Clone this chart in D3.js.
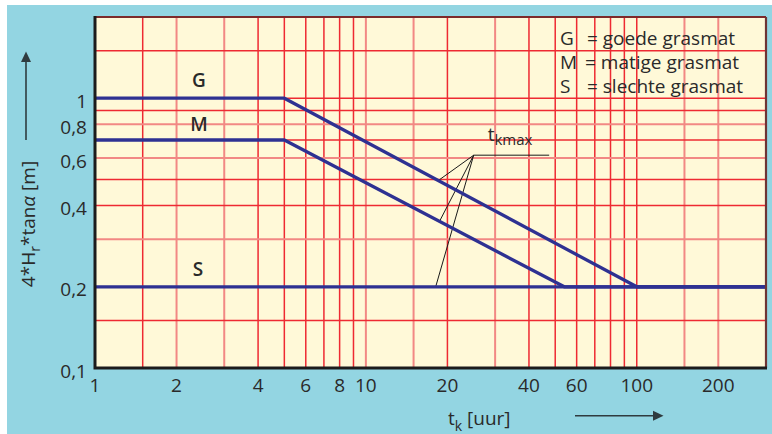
<!DOCTYPE html>
<html>
<head>
<meta charset="utf-8">
<script src="https://cdn.jsdelivr.net/npm/d3@7"></script>
<style>
  html, body { margin: 0; padding: 0; background: #ffffff; }
  svg { display: block; }
  text { font-family: "Open Sans", "Lato", sans-serif; fill: #2a2a2a; }
</style>
</head>
<body>
<svg id="chart" width="772" height="434"></svg>
<script>
// Duration of storm (hours) versus 4*Hr*tan(alpha), log-log
const xDomain = [1, 300];
const yDomain = [0.1, 2];

// grid lines
const xGrid = [1.5, 2, 3, 4, 5, 6, 7, 8, 9, 10, 15, 20, 30, 40, 50, 60, 70, 80, 90, 100, 150, 200];
const yGrid = [1.5, 1, 0.9, 0.8, 0.7, 0.6, 0.5, 0.4, 0.3, 0.2, 0.15];

// tick labels
const xTicks = [1, 2, 4, 6, 8, 10, 20, 40, 60, 100, 200];
const yTicks = [1, 0.8, 0.6, 0.4, 0.2, 0.1];

// series: [t_k, value]
const seriesNames = ["G", "M", "S"];
const seriesG = [[1, 1], [5, 1], [100, 0.2], [300, 0.2]];
const seriesM = [[1, 0.7], [5, 0.7], [54, 0.2], [300, 0.2]];
const seriesS = [[1, 0.2], [300, 0.2]];
const labelX = [2.42, 2.42, 2.4];

// legend rows
const legendKeys = ["G", "M", "S"];
const legendTexts = ["= goede grasmat", "= matige grasmat", "= slechte grasmat"];

// t_kmax leader: knee point, end of the shelf, and where each leader meets a series
const tkmaxKnee = [25, 0.615];
const tkmaxShelfEnd = 47.5;
const tkmaxHits = [18.5, 18.7, 18.1];

const svg = d3.select("#chart");
const W = 772, H = 434;

const x = d3.scaleLog().domain(xDomain).range([95, 766]);
const y = d3.scaleLog().domain(yDomain).range([368, 17]);

// panel background
svg.append("rect").attr("x", 7).attr("y", 5).attr("width", W - 7).attr("height", H - 5)
  .attr("fill", "#93d5e2");

// plot area
svg.append("rect")
  .attr("x", x(xDomain[0])).attr("y", y(yDomain[1]))
  .attr("width", x(xDomain[1]) - x(xDomain[0]))
  .attr("height", y(yDomain[0]) - y(yDomain[1]))
  .attr("fill", "#fff9d8");

const softX = new Set([2, 3, 10, 15, 30, 150, 200]);
const softY = new Set([0.8, 0.6, 0.3]);

const grid = svg.append("g");
grid.selectAll(".gx").data(xGrid).join("line")
  .attr("x1", d => x(d)).attr("x2", d => x(d))
  .attr("y1", y(yDomain[0])).attr("y2", y(yDomain[1]))
  .attr("stroke", d => softX.has(d) ? "#f28884" : "#ee2a32")
  .attr("stroke-width", d => softX.has(d) ? 2 : 1.5);
grid.selectAll(".gy").data(yGrid).join("line")
  .attr("y1", d => y(d)).attr("y2", d => y(d))
  .attr("x1", x(xDomain[0])).attr("x2", x(xDomain[1]))
  .attr("stroke", d => softY.has(d) ? "#f28884" : "#ee2a32")
  .attr("stroke-width", d => softY.has(d) ? 2 : 1.5);

// log-log interpolation along a series
function valueAt(series, t) {
  for (let i = 0; i < series.length - 1; i++) {
    const [x0, y0] = series[i], [x1, y1] = series[i + 1];
    if (t >= x0 && t <= x1) {
      const f = (Math.log(t) - Math.log(x0)) / (Math.log(x1) - Math.log(x0));
      return Math.exp(Math.log(y0) + f * (Math.log(y1) - Math.log(y0)));
    }
  }
  return series[series.length - 1][1];
}

// t_kmax leaders
const series = [seriesG, seriesM, seriesS];
const ann = svg.append("g").attr("stroke", "#1a1a1a").attr("stroke-width", 1).attr("fill", "none");
ann.append("line")
  .attr("x1", x(tkmaxKnee[0])).attr("y1", y(tkmaxKnee[1]))
  .attr("x2", x(tkmaxShelfEnd)).attr("y2", y(tkmaxKnee[1]));
tkmaxHits.forEach((t, i) => {
  ann.append("line")
    .attr("x1", x(tkmaxKnee[0])).attr("y1", y(tkmaxKnee[1]))
    .attr("x2", x(t)).attr("y2", y(valueAt(series[i], t)));
});

// series lines
const line = d3.line().x(d => x(d[0])).y(d => y(d[1]));
svg.append("g").selectAll("path").data(series).join("path")
  .attr("d", line)
  .attr("fill", "none")
  .attr("stroke", "#2e3192")
  .attr("stroke-width", 3.3)
  .attr("stroke-linejoin", "round");

// series labels
const labelOffset = [-11, -9, -11];
svg.append("g").selectAll("text").data(seriesNames).join("text")
  .attr("x", (d, i) => x(labelX[i]))
  .attr("y", (d, i) => y(series[i][0][1]) + labelOffset[i])
  .attr("text-anchor", "middle")
  .attr("font-size", 19).attr("font-weight", 600)
  .text(d => d);

// t_kmax label
const tk = svg.append("text")
  .attr("x", x(tkmaxKnee[0]) + 14).attr("y", y(tkmaxKnee[1]) - 14)
  .attr("font-size", 19);
tk.append("tspan").text("t");
tk.append("tspan").attr("font-size", 15).attr("dy", 4).text("kmax");

// frame
const x0 = x(xDomain[0]), x1 = x(xDomain[1]), yt = y(yDomain[1]), yb = y(yDomain[0]);
svg.append("line").attr("x1", x0).attr("x2", x1).attr("y1", yt).attr("y2", yt)
  .attr("stroke", "#7c2a2a").attr("stroke-width", 2.2);
svg.append("line").attr("x1", x1).attr("x2", x1).attr("y1", yt).attr("y2", yb)
  .attr("stroke", "#6e3434").attr("stroke-width", 2.2);
svg.append("path")
  .attr("d", `M${x0},${yt - 1}V${yb}H${x1 + 1}`)
  .attr("fill", "none").attr("stroke", "#1c1c1c").attr("stroke-width", 3);

// tick labels
svg.append("g").selectAll("text").data(xTicks).join("text")
  .attr("x", d => x(d)).attr("y", 392)
  .attr("text-anchor", "middle").attr("font-size", 19)
  .text(d => String(d));
svg.append("g").selectAll("text").data(yTicks).join("text")
  .attr("x", 87).attr("y", d => y(d) + 9.5)
  .attr("text-anchor", "end").attr("font-size", 19)
  .text(d => String(d).replace(".", ","));

// legend
const lg = svg.append("g").attr("font-size", 19);
legendKeys.forEach((k, i) => {
  const by = 45 + i * 24;
  lg.append("text").attr("x", 560).attr("y", by).text(k);
  lg.append("text").attr("x", i === 1 ? 585 : 587).attr("y", by).text(legendTexts[i]);
});

// axis titles
const yt0 = svg.append("text")
  .attr("transform", "translate(35,224) rotate(-90)")
  .attr("text-anchor", "middle").attr("font-size", 19);
yt0.append("tspan").text("4*H");
yt0.append("tspan").attr("font-size", 14).attr("dy", 5).text("r");
yt0.append("tspan").attr("dy", -5).text("*tan");
yt0.append("tspan").attr("font-style", "italic").text("α");
yt0.append("tspan").text(" [m]");

const xt = svg.append("text").attr("x", 448).attr("y", 425).attr("font-size", 19);
xt.append("tspan").text("t");
xt.append("tspan").attr("font-size", 14).attr("dy", 6).text("k");
xt.append("tspan").attr("dy", -6).text(" [uur]");

// direction arrows
const arrowColor = "#2f3b3f";
svg.append("line").attr("x1", 26).attr("x2", 26).attr("y1", 140).attr("y2", 60)
  .attr("stroke", arrowColor).attr("stroke-width", 1.6);
svg.append("path").attr("d", "M26,51.5L31,62L21,62Z").attr("fill", arrowColor);
svg.append("line").attr("x1", 575).attr("x2", 655).attr("y1", 415.7).attr("y2", 415.7)
  .attr("stroke", arrowColor).attr("stroke-width", 1.6);
svg.append("path").attr("d", "M663.5,415.7L653,410.7L653,420.7Z").attr("fill", arrowColor);
</script>
</body>
</html>
